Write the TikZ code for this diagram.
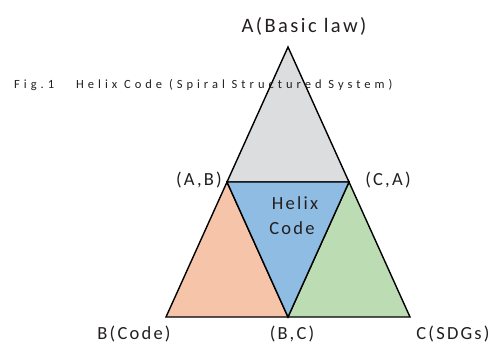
\documentclass[tikz,border=0pt]{standalone}
\usepackage{fontspec}
\setmainfont{Carlito}
\newfontfamily\spaced[LetterSpace=12]{Carlito}
\newfontfamily\widespaced[LetterSpace=32]{Carlito}
\definecolor{inkgray}{HTML}{231F20}
\definecolor{topgray}{HTML}{DCDDDF}
\definecolor{midblue}{HTML}{8FBCE3}
\definecolor{leftorange}{HTML}{F6C4A8}
\definecolor{rightgreen}{HTML}{BCDDB3}
\begin{document}
\begin{tikzpicture}[x=1pt,y=-1pt,
  label/.style={text=inkgray,inner sep=0pt,font=\spaced\fontsize{18.5}{22}\selectfont},
  part/.style={draw=black,line width=1.4pt,line join=miter}]
\useasboundingbox (0,0) rectangle (504,345);
% corner and mid-edge points of the large triangle
\coordinate (A) at (288,47);
\coordinate (B) at (166,317);
\coordinate (C) at (410,317);
\coordinate (AB) at (227,182);
\coordinate (CA) at (349,182);
\coordinate (BC) at (288,317);
% four sub-triangles
\filldraw[part,fill=topgray] (A) -- (AB) -- (CA) -- cycle;
\filldraw[part,fill=leftorange] (AB) -- (B) -- (BC) -- cycle;
\filldraw[part,fill=rightgreen] (CA) -- (BC) -- (C) -- cycle;
\filldraw[part,fill=midblue] (AB) -- (CA) -- (BC) -- cycle;
% caption
\node[label,anchor=west,font=\widespaced\fontsize{12.5}{15}\selectfont] (cap) at (14,85)
  {Fig.1\hspace{22pt}Helix Code (Spiral Structured System)};
% labels
\node[label,font=\spaced\fontsize{20.5}{24}\selectfont] (la) at (304,26) {A(Basic law)};
\node[label] (lab) at (199,180) {(A,B)};
\node[label] (lca) at (388,180) {(C,A)};
\node[label] (lhelix) at (295,203) {Helix};
\node[label] (lcode) at (292,228) {Code};
\node[label] (lb) at (134,334) {B(Code)};
\node[label] (lbc) at (292,334) {(B,C)};
\node[label] (lc) at (453,334) {C(SDGs)};
\end{tikzpicture}
\end{document}
